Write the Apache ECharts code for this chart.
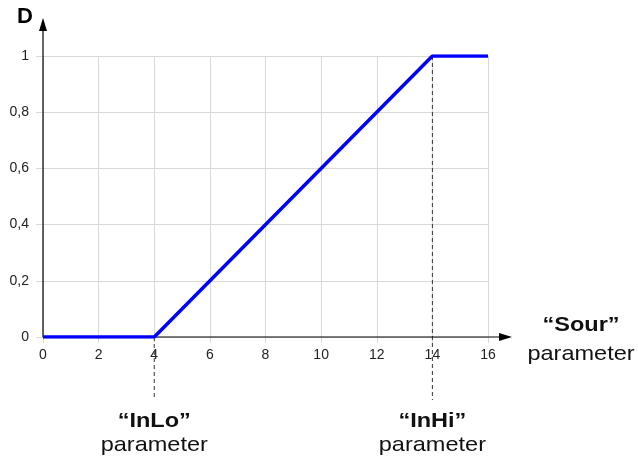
<!DOCTYPE html>
<html><head><meta charset="utf-8">
<script src="https://cdn.jsdelivr.net/npm/echarts@6/dist/echarts.min.js"></script>
<style>html,body{margin:0;padding:0;background:#fff}#c{width:638px;height:462px}</style>
</head><body><div id="c"></div>
<script>
const xValues = [0, 4, 14, 16];
const dValues = [0, 0, 1, 1];
const xTicks = [0, 2, 4, 6, 8, 10, 12, 14, 16];
const yTicks = [0, 0.2, 0.4, 0.6, 0.8, 1];
const inLo = 4, inHi = 14;

const chart = echarts.init(document.getElementById('c'));
const font = 'Liberation Sans, Arial, sans-serif';
chart.setOption({
  animation: false,
  grid: {left: 43, right: 150, top: 56, bottom: 125},
  xAxis: {
    type: 'value', min: 0, max: 16, interval: 2,
    axisLine: {show: false},
    axisTick: {show: true, length: 6, lineStyle: {color: '#d9d9d9'}},
    splitLine: {show: true, lineStyle: {color: '#d9d9d9', width: 1}},
    axisLabel: {color: '#222', fontSize: 14, fontFamily: font, margin: 11}
  },
  yAxis: {
    type: 'value', min: 0, max: 1, interval: 0.2,
    axisLine: {show: false},
    axisTick: {show: true, length: 7, lineStyle: {color: '#d9d9d9'}},
    splitLine: {show: true, lineStyle: {color: '#d9d9d9', width: 1}},
    axisLabel: {color: '#222', fontSize: 14, fontFamily: font, margin: 14,
      formatter: v => String(Math.round(v * 10) / 10).replace('.', ',')}
  },
  series: [{
    type: 'line', data: xValues.map((x, i) => [x, dValues[i]]),
    symbol: 'none', lineStyle: {color: '#0000ff', width: 3.5}, z: 5
  }]
});

function px(x, y) { return chart.convertToPixel({gridIndex: 0}, [x, y]); }
const o = px(0, 0);
const lo0 = px(inLo, 0), hi1 = px(inHi, 1), hi0 = px(inHi, 0);
const g = [];
g.push({type: 'line', shape: {x1: lo0[0], y1: lo0[1], x2: lo0[0], y2: 400},
  style: {stroke: '#333', lineWidth: 1, lineDash: [4, 3]}, z: 3});
g.push({type: 'line', shape: {x1: hi1[0], y1: hi1[1], x2: hi1[0], y2: 400},
  style: {stroke: '#333', lineWidth: 1, lineDash: [4, 3]}, z: 3});
g.push({type: 'line', shape: {x1: o[0], y1: o[1], x2: o[0], y2: 28}, style: {stroke: '#000', lineWidth: 1.2}, z: 4});
g.push({type: 'polygon', shape: {points: [[o[0], 18], [o[0] - 4, 31], [o[0] + 4, 31]]}, style: {fill: '#000'}, z: 4});
g.push({type: 'line', shape: {x1: o[0], y1: o[1], x2: 502, y2: o[1]}, style: {stroke: '#000', lineWidth: 1.2}, z: 4});
g.push({type: 'polygon', shape: {points: [[512, o[1]], [499, o[1] - 4], [499, o[1] + 4]]}, style: {fill: '#000'}, z: 4});
g.push({type: 'text', x: 17, y: 6, style: {text: 'D', font: 'bold 22px ' + font, fill: '#000'}});
const sx = 1.12;
function label(x, y, t, bold) {
  g.push({type: 'text', x: x, y: y, scaleX: sx,
    style: {text: t, font: (bold ? 'bold ' : '') + '21px ' + font, fill: '#111', align: 'center'}});
}
label(581, 315, '“Sour”', true);
label(581, 344, 'parameter', false);
label(lo0[0], 411, '“InLo”', true);
label(lo0[0], 435, 'parameter', false);
label(hi0[0], 411, '“InHi”', true);
label(hi0[0], 435, 'parameter', false);
chart.setOption({graphic: g});
</script></body></html>
